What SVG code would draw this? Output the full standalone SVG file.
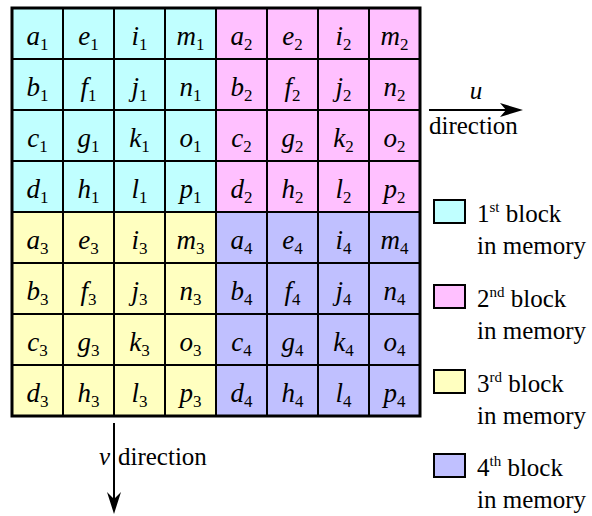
<svg xmlns="http://www.w3.org/2000/svg" width="592" height="516" viewBox="0 0 592 516">
<style>
.c1{fill:#C0FFFF}.c2{fill:#FFC0FF}.c3{fill:#FFFFC0}.c4{fill:#C0C0FF}
.cr{stroke:#000;stroke-width:2}
.key{stroke:#000;stroke-width:2}
.ln{stroke:#000;stroke-width:2;fill:none}
.t{font-family:'Liberation Serif';font-size:27px;font-style:italic;text-anchor:middle}
.s{font-style:normal;font-size:17px}
.lab{font-family:'Liberation Serif';font-size:25px}
.sup{font-size:15px}
</style>
<g id="cells">
<g id="a1"><rect class="cr c1" x="12" y="8" width="51" height="51"/><text class="t" style="font-family:'Liberation Serif'" x="37.5" y="44.5">a<tspan class="s" dy="5">1</tspan></text></g>
<g id="e1"><rect class="cr c1" x="63" y="8" width="51" height="51"/><text class="t" style="font-family:'Liberation Serif'" x="88.5" y="44.5">e<tspan class="s" dy="5">1</tspan></text></g>
<g id="i1"><rect class="cr c1" x="114" y="8" width="51" height="51"/><text class="t" style="font-family:'Liberation Serif'" x="139.5" y="44.5">i<tspan class="s" dy="5">1</tspan></text></g>
<g id="m1"><rect class="cr c1" x="165" y="8" width="51" height="51"/><text class="t" style="font-family:'Liberation Serif'" x="190.5" y="44.5">m<tspan class="s" dy="5">1</tspan></text></g>
<g id="b1"><rect class="cr c1" x="12" y="59" width="51" height="51"/><text class="t" style="font-family:'Liberation Serif'" x="37.5" y="95.5">b<tspan class="s" dy="5">1</tspan></text></g>
<g id="f1"><rect class="cr c1" x="63" y="59" width="51" height="51"/><text class="t" style="font-family:'Liberation Serif'" x="88.5" y="95.5">f<tspan class="s" dy="5">1</tspan></text></g>
<g id="j1"><rect class="cr c1" x="114" y="59" width="51" height="51"/><text class="t" style="font-family:'Liberation Serif'" x="139.5" y="95.5">j<tspan class="s" dy="5">1</tspan></text></g>
<g id="n1"><rect class="cr c1" x="165" y="59" width="51" height="51"/><text class="t" style="font-family:'Liberation Serif'" x="190.5" y="95.5">n<tspan class="s" dy="5">1</tspan></text></g>
<g id="c1"><rect class="cr c1" x="12" y="110" width="51" height="51"/><text class="t" style="font-family:'Liberation Serif'" x="37.5" y="146.5">c<tspan class="s" dy="5">1</tspan></text></g>
<g id="g1"><rect class="cr c1" x="63" y="110" width="51" height="51"/><text class="t" style="font-family:'Liberation Serif'" x="88.5" y="146.5">g<tspan class="s" dy="5">1</tspan></text></g>
<g id="k1"><rect class="cr c1" x="114" y="110" width="51" height="51"/><text class="t" style="font-family:'Liberation Serif'" x="139.5" y="146.5">k<tspan class="s" dy="5">1</tspan></text></g>
<g id="o1"><rect class="cr c1" x="165" y="110" width="51" height="51"/><text class="t" style="font-family:'Liberation Serif'" x="190.5" y="146.5">o<tspan class="s" dy="5">1</tspan></text></g>
<g id="d1"><rect class="cr c1" x="12" y="161" width="51" height="51"/><text class="t" style="font-family:'Liberation Serif'" x="37.5" y="197.5">d<tspan class="s" dy="5">1</tspan></text></g>
<g id="h1"><rect class="cr c1" x="63" y="161" width="51" height="51"/><text class="t" style="font-family:'Liberation Serif'" x="88.5" y="197.5">h<tspan class="s" dy="5">1</tspan></text></g>
<g id="l1"><rect class="cr c1" x="114" y="161" width="51" height="51"/><text class="t" style="font-family:'Liberation Serif'" x="139.5" y="197.5">l<tspan class="s" dy="5">1</tspan></text></g>
<g id="p1"><rect class="cr c1" x="165" y="161" width="51" height="51"/><text class="t" style="font-family:'Liberation Serif'" x="190.5" y="197.5">p<tspan class="s" dy="5">1</tspan></text></g>
<g id="a2"><rect class="cr c2" x="216" y="8" width="51" height="51"/><text class="t" style="font-family:'Liberation Serif'" x="241.5" y="44.5">a<tspan class="s" dy="5">2</tspan></text></g>
<g id="e2"><rect class="cr c2" x="267" y="8" width="51" height="51"/><text class="t" style="font-family:'Liberation Serif'" x="292.5" y="44.5">e<tspan class="s" dy="5">2</tspan></text></g>
<g id="i2"><rect class="cr c2" x="318" y="8" width="51" height="51"/><text class="t" style="font-family:'Liberation Serif'" x="343.5" y="44.5">i<tspan class="s" dy="5">2</tspan></text></g>
<g id="m2"><rect class="cr c2" x="369" y="8" width="51" height="51"/><text class="t" style="font-family:'Liberation Serif'" x="394.5" y="44.5">m<tspan class="s" dy="5">2</tspan></text></g>
<g id="b2"><rect class="cr c2" x="216" y="59" width="51" height="51"/><text class="t" style="font-family:'Liberation Serif'" x="241.5" y="95.5">b<tspan class="s" dy="5">2</tspan></text></g>
<g id="f2"><rect class="cr c2" x="267" y="59" width="51" height="51"/><text class="t" style="font-family:'Liberation Serif'" x="292.5" y="95.5">f<tspan class="s" dy="5">2</tspan></text></g>
<g id="j2"><rect class="cr c2" x="318" y="59" width="51" height="51"/><text class="t" style="font-family:'Liberation Serif'" x="343.5" y="95.5">j<tspan class="s" dy="5">2</tspan></text></g>
<g id="n2"><rect class="cr c2" x="369" y="59" width="51" height="51"/><text class="t" style="font-family:'Liberation Serif'" x="394.5" y="95.5">n<tspan class="s" dy="5">2</tspan></text></g>
<g id="c2"><rect class="cr c2" x="216" y="110" width="51" height="51"/><text class="t" style="font-family:'Liberation Serif'" x="241.5" y="146.5">c<tspan class="s" dy="5">2</tspan></text></g>
<g id="g2"><rect class="cr c2" x="267" y="110" width="51" height="51"/><text class="t" style="font-family:'Liberation Serif'" x="292.5" y="146.5">g<tspan class="s" dy="5">2</tspan></text></g>
<g id="k2"><rect class="cr c2" x="318" y="110" width="51" height="51"/><text class="t" style="font-family:'Liberation Serif'" x="343.5" y="146.5">k<tspan class="s" dy="5">2</tspan></text></g>
<g id="o2"><rect class="cr c2" x="369" y="110" width="51" height="51"/><text class="t" style="font-family:'Liberation Serif'" x="394.5" y="146.5">o<tspan class="s" dy="5">2</tspan></text></g>
<g id="d2"><rect class="cr c2" x="216" y="161" width="51" height="51"/><text class="t" style="font-family:'Liberation Serif'" x="241.5" y="197.5">d<tspan class="s" dy="5">2</tspan></text></g>
<g id="h2"><rect class="cr c2" x="267" y="161" width="51" height="51"/><text class="t" style="font-family:'Liberation Serif'" x="292.5" y="197.5">h<tspan class="s" dy="5">2</tspan></text></g>
<g id="l2"><rect class="cr c2" x="318" y="161" width="51" height="51"/><text class="t" style="font-family:'Liberation Serif'" x="343.5" y="197.5">l<tspan class="s" dy="5">2</tspan></text></g>
<g id="p2"><rect class="cr c2" x="369" y="161" width="51" height="51"/><text class="t" style="font-family:'Liberation Serif'" x="394.5" y="197.5">p<tspan class="s" dy="5">2</tspan></text></g>
<g id="a3"><rect class="cr c3" x="12" y="212" width="51" height="51"/><text class="t" style="font-family:'Liberation Serif'" x="37.5" y="248.5">a<tspan class="s" dy="5">3</tspan></text></g>
<g id="e3"><rect class="cr c3" x="63" y="212" width="51" height="51"/><text class="t" style="font-family:'Liberation Serif'" x="88.5" y="248.5">e<tspan class="s" dy="5">3</tspan></text></g>
<g id="i3"><rect class="cr c3" x="114" y="212" width="51" height="51"/><text class="t" style="font-family:'Liberation Serif'" x="139.5" y="248.5">i<tspan class="s" dy="5">3</tspan></text></g>
<g id="m3"><rect class="cr c3" x="165" y="212" width="51" height="51"/><text class="t" style="font-family:'Liberation Serif'" x="190.5" y="248.5">m<tspan class="s" dy="5">3</tspan></text></g>
<g id="b3"><rect class="cr c3" x="12" y="263" width="51" height="51"/><text class="t" style="font-family:'Liberation Serif'" x="37.5" y="299.5">b<tspan class="s" dy="5">3</tspan></text></g>
<g id="f3"><rect class="cr c3" x="63" y="263" width="51" height="51"/><text class="t" style="font-family:'Liberation Serif'" x="88.5" y="299.5">f<tspan class="s" dy="5">3</tspan></text></g>
<g id="j3"><rect class="cr c3" x="114" y="263" width="51" height="51"/><text class="t" style="font-family:'Liberation Serif'" x="139.5" y="299.5">j<tspan class="s" dy="5">3</tspan></text></g>
<g id="n3"><rect class="cr c3" x="165" y="263" width="51" height="51"/><text class="t" style="font-family:'Liberation Serif'" x="190.5" y="299.5">n<tspan class="s" dy="5">3</tspan></text></g>
<g id="c3"><rect class="cr c3" x="12" y="314" width="51" height="51"/><text class="t" style="font-family:'Liberation Serif'" x="37.5" y="350.5">c<tspan class="s" dy="5">3</tspan></text></g>
<g id="g3"><rect class="cr c3" x="63" y="314" width="51" height="51"/><text class="t" style="font-family:'Liberation Serif'" x="88.5" y="350.5">g<tspan class="s" dy="5">3</tspan></text></g>
<g id="k3"><rect class="cr c3" x="114" y="314" width="51" height="51"/><text class="t" style="font-family:'Liberation Serif'" x="139.5" y="350.5">k<tspan class="s" dy="5">3</tspan></text></g>
<g id="o3"><rect class="cr c3" x="165" y="314" width="51" height="51"/><text class="t" style="font-family:'Liberation Serif'" x="190.5" y="350.5">o<tspan class="s" dy="5">3</tspan></text></g>
<g id="d3"><rect class="cr c3" x="12" y="365" width="51" height="51"/><text class="t" style="font-family:'Liberation Serif'" x="37.5" y="401.5">d<tspan class="s" dy="5">3</tspan></text></g>
<g id="h3"><rect class="cr c3" x="63" y="365" width="51" height="51"/><text class="t" style="font-family:'Liberation Serif'" x="88.5" y="401.5">h<tspan class="s" dy="5">3</tspan></text></g>
<g id="l3"><rect class="cr c3" x="114" y="365" width="51" height="51"/><text class="t" style="font-family:'Liberation Serif'" x="139.5" y="401.5">l<tspan class="s" dy="5">3</tspan></text></g>
<g id="p3"><rect class="cr c3" x="165" y="365" width="51" height="51"/><text class="t" style="font-family:'Liberation Serif'" x="190.5" y="401.5">p<tspan class="s" dy="5">3</tspan></text></g>
<g id="a4"><rect class="cr c4" x="216" y="212" width="51" height="51"/><text class="t" style="font-family:'Liberation Serif'" x="241.5" y="248.5">a<tspan class="s" dy="5">4</tspan></text></g>
<g id="e4"><rect class="cr c4" x="267" y="212" width="51" height="51"/><text class="t" style="font-family:'Liberation Serif'" x="292.5" y="248.5">e<tspan class="s" dy="5">4</tspan></text></g>
<g id="i4"><rect class="cr c4" x="318" y="212" width="51" height="51"/><text class="t" style="font-family:'Liberation Serif'" x="343.5" y="248.5">i<tspan class="s" dy="5">4</tspan></text></g>
<g id="m4"><rect class="cr c4" x="369" y="212" width="51" height="51"/><text class="t" style="font-family:'Liberation Serif'" x="394.5" y="248.5">m<tspan class="s" dy="5">4</tspan></text></g>
<g id="b4"><rect class="cr c4" x="216" y="263" width="51" height="51"/><text class="t" style="font-family:'Liberation Serif'" x="241.5" y="299.5">b<tspan class="s" dy="5">4</tspan></text></g>
<g id="f4"><rect class="cr c4" x="267" y="263" width="51" height="51"/><text class="t" style="font-family:'Liberation Serif'" x="292.5" y="299.5">f<tspan class="s" dy="5">4</tspan></text></g>
<g id="j4"><rect class="cr c4" x="318" y="263" width="51" height="51"/><text class="t" style="font-family:'Liberation Serif'" x="343.5" y="299.5">j<tspan class="s" dy="5">4</tspan></text></g>
<g id="n4"><rect class="cr c4" x="369" y="263" width="51" height="51"/><text class="t" style="font-family:'Liberation Serif'" x="394.5" y="299.5">n<tspan class="s" dy="5">4</tspan></text></g>
<g id="c4"><rect class="cr c4" x="216" y="314" width="51" height="51"/><text class="t" style="font-family:'Liberation Serif'" x="241.5" y="350.5">c<tspan class="s" dy="5">4</tspan></text></g>
<g id="g4"><rect class="cr c4" x="267" y="314" width="51" height="51"/><text class="t" style="font-family:'Liberation Serif'" x="292.5" y="350.5">g<tspan class="s" dy="5">4</tspan></text></g>
<g id="k4"><rect class="cr c4" x="318" y="314" width="51" height="51"/><text class="t" style="font-family:'Liberation Serif'" x="343.5" y="350.5">k<tspan class="s" dy="5">4</tspan></text></g>
<g id="o4"><rect class="cr c4" x="369" y="314" width="51" height="51"/><text class="t" style="font-family:'Liberation Serif'" x="394.5" y="350.5">o<tspan class="s" dy="5">4</tspan></text></g>
<g id="d4"><rect class="cr c4" x="216" y="365" width="51" height="51"/><text class="t" style="font-family:'Liberation Serif'" x="241.5" y="401.5">d<tspan class="s" dy="5">4</tspan></text></g>
<g id="h4"><rect class="cr c4" x="267" y="365" width="51" height="51"/><text class="t" style="font-family:'Liberation Serif'" x="292.5" y="401.5">h<tspan class="s" dy="5">4</tspan></text></g>
<g id="l4"><rect class="cr c4" x="318" y="365" width="51" height="51"/><text class="t" style="font-family:'Liberation Serif'" x="343.5" y="401.5">l<tspan class="s" dy="5">4</tspan></text></g>
<g id="p4"><rect class="cr c4" x="369" y="365" width="51" height="51"/><text class="t" style="font-family:'Liberation Serif'" x="394.5" y="401.5">p<tspan class="s" dy="5">4</tspan></text></g>
</g>
<rect id="border" x="12" y="8" width="408" height="408" fill="none" stroke="#000" stroke-width="3"/>

<g id="connectors">
<g id="u-arrow">
<line class="ln" x1="429" y1="110" x2="510" y2="110"/>
<polygon points="523,110 500,103 506,110 500,117" fill="#000"/>
</g>
<g id="v-arrow">
<line class="ln" x1="114" y1="423" x2="114" y2="502"/>
<polygon points="114,514 107,492 114,499 121,492" fill="#000"/>
</g>
</g>

<g id="u-label">
<text class="lab" style="font-family:'Liberation Serif';font-style:italic" x="476" y="99" text-anchor="middle">u</text>
<text class="lab" style="font-family:'Liberation Serif'" x="429" y="134">direction</text>
</g>
<g id="v-label">
<text class="lab" style="font-family:'Liberation Serif';font-style:italic" x="110" y="465" text-anchor="end">v</text>
<text class="lab" style="font-family:'Liberation Serif'" x="118" y="465">direction</text>
</g>
<g id="legend1">
<rect class="key c1" x="434" y="200" width="31" height="23"/>
<text class="lab" style="font-family:'Liberation Serif'" x="477" y="222">1<tspan class="sup" dy="-10">st</tspan><tspan dy="10"> block</tspan></text>
<text class="lab" style="font-family:'Liberation Serif'" x="477" y="254">in memory</text>
</g>
<g id="legend2">
<rect class="key c2" x="434" y="285" width="31" height="23"/>
<text class="lab" style="font-family:'Liberation Serif'" x="477" y="307">2<tspan class="sup" dy="-10">nd</tspan><tspan dy="10"> block</tspan></text>
<text class="lab" style="font-family:'Liberation Serif'" x="477" y="339">in memory</text>
</g>
<g id="legend3">
<rect class="key c3" x="434" y="370" width="31" height="23"/>
<text class="lab" style="font-family:'Liberation Serif'" x="477" y="392">3<tspan class="sup" dy="-10">rd</tspan><tspan dy="10"> block</tspan></text>
<text class="lab" style="font-family:'Liberation Serif'" x="477" y="424">in memory</text>
</g>
<g id="legend4">
<rect class="key c4" x="434" y="454" width="31" height="23"/>
<text class="lab" style="font-family:'Liberation Serif'" x="477" y="476">4<tspan class="sup" dy="-10">th</tspan><tspan dy="10"> block</tspan></text>
<text class="lab" style="font-family:'Liberation Serif'" x="477" y="508">in memory</text>
</g>
</svg>
